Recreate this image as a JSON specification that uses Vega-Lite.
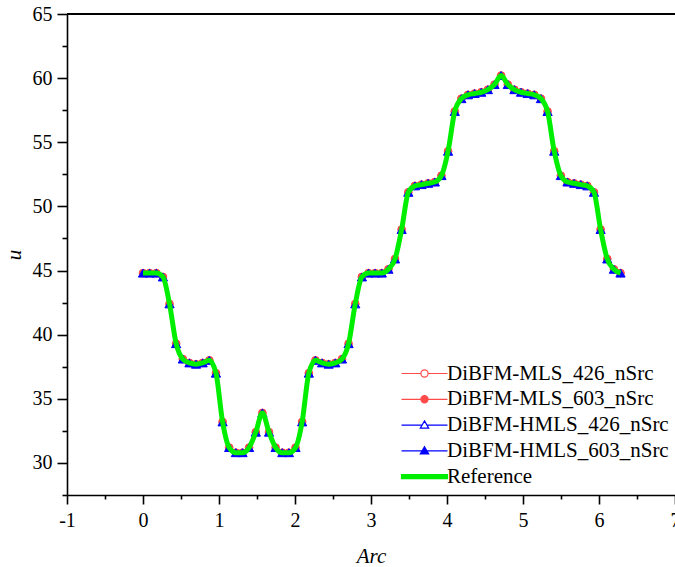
{
  "$schema": "https://vega.github.io/schema/vega-lite/v6.json",
  "width": 608,
  "height": 481,
  "autosize": {"type": "none"},
  "padding": {"left": 67, "top": 14, "right": 0, "bottom": 72},
  "config": {
    "view": {"stroke": null},
    "font": "Liberation Serif, DejaVu Serif, serif",
    "axis": {
      "grid": false,
      "domainColor": "#000000",
      "domainWidth": 1.6,
      "tickColor": "#000000",
      "tickWidth": 1.6,
      "labelFont": "Liberation Serif, DejaVu Serif, serif",
      "labelFontSize": 20,
      "labelColor": "#000000",
      "labelFlush": false,
      "labelBound": false,
      "labelOverlap": false,
      "titleFont": "Liberation Serif, DejaVu Serif, serif",
      "titleFontSize": 21,
      "titleFontStyle": "italic",
      "titleFontWeight": "normal",
      "titleColor": "#000000"
    },
    "legend": {
      "orient": "none",
      "legendX": 347,
      "legendY": 349,
      "padding": 0,
      "labelFont": "Liberation Serif, DejaVu Serif, serif",
      "labelFontSize": 21,
      "labelColor": "#000000",
      "labelLimit": 0,
      "labelOffset": 12,
      "symbolSize": 144,
      "symbolStrokeWidth": 1.2,
      "symbolOpacity": 1,
      "rowPadding": 3.8
    }
  },
  "data": {
    "values": [
      {"arc": 0.0, "m426": 44.8, "m603": 44.8, "h426": 44.8, "h603": 44.8, "ref": 44.8},
      {"arc": 0.087, "m426": 44.8, "m603": 44.8, "h426": 44.8, "h603": 44.8, "ref": 44.8},
      {"arc": 0.175, "m426": 44.8, "m603": 44.8, "h426": 44.8, "h603": 44.8, "ref": 44.8},
      {"arc": 0.262, "m426": 44.5, "m603": 44.5, "h426": 44.5, "h603": 44.5, "ref": 44.5},
      {"arc": 0.349, "m426": 42.4, "m603": 42.4, "h426": 42.4, "h603": 42.4, "ref": 42.4},
      {"arc": 0.436, "m426": 39.3, "m603": 39.3, "h426": 39.3, "h603": 39.3, "ref": 39.3},
      {"arc": 0.524, "m426": 38.1, "m603": 38.1, "h426": 38.1, "h603": 38.1, "ref": 38.1},
      {"arc": 0.611, "m426": 37.8, "m603": 37.8, "h426": 37.8, "h603": 37.8, "ref": 37.8},
      {"arc": 0.698, "m426": 37.7, "m603": 37.7, "h426": 37.7, "h603": 37.7, "ref": 37.7},
      {"arc": 0.785, "m426": 37.8, "m603": 37.8, "h426": 37.8, "h603": 37.8, "ref": 37.8},
      {"arc": 0.873, "m426": 38.0, "m603": 38.0, "h426": 38.0, "h603": 38.0, "ref": 38.0},
      {"arc": 0.96, "m426": 37.0, "m603": 37.0, "h426": 37.0, "h603": 37.0, "ref": 37.0},
      {"arc": 1.047, "m426": 33.2, "m603": 33.2, "h426": 33.2, "h603": 33.2, "ref": 33.2},
      {"arc": 1.134, "m426": 31.2, "m603": 31.2, "h426": 31.2, "h603": 31.2, "ref": 31.2},
      {"arc": 1.222, "m426": 30.8, "m603": 30.8, "h426": 30.8, "h603": 30.8, "ref": 30.8},
      {"arc": 1.309, "m426": 30.8, "m603": 30.8, "h426": 30.8, "h603": 30.8, "ref": 30.8},
      {"arc": 1.396, "m426": 31.2, "m603": 31.2, "h426": 31.2, "h603": 31.2, "ref": 31.2},
      {"arc": 1.484, "m426": 32.4, "m603": 32.4, "h426": 32.4, "h603": 32.4, "ref": 32.4},
      {"arc": 1.571, "m426": 33.9, "m603": 33.9, "h426": 33.9, "h603": 33.9, "ref": 33.9},
      {"arc": 1.658, "m426": 32.4, "m603": 32.4, "h426": 32.4, "h603": 32.4, "ref": 32.4},
      {"arc": 1.745, "m426": 31.2, "m603": 31.2, "h426": 31.2, "h603": 31.2, "ref": 31.2},
      {"arc": 1.833, "m426": 30.8, "m603": 30.8, "h426": 30.8, "h603": 30.8, "ref": 30.8},
      {"arc": 1.92, "m426": 30.8, "m603": 30.8, "h426": 30.8, "h603": 30.8, "ref": 30.8},
      {"arc": 2.007, "m426": 31.2, "m603": 31.2, "h426": 31.2, "h603": 31.2, "ref": 31.2},
      {"arc": 2.094, "m426": 33.2, "m603": 33.2, "h426": 33.2, "h603": 33.2, "ref": 33.2},
      {"arc": 2.182, "m426": 37.0, "m603": 37.0, "h426": 37.0, "h603": 37.0, "ref": 37.0},
      {"arc": 2.269, "m426": 38.0, "m603": 38.0, "h426": 38.0, "h603": 38.0, "ref": 38.0},
      {"arc": 2.356, "m426": 37.8, "m603": 37.8, "h426": 37.8, "h603": 37.8, "ref": 37.8},
      {"arc": 2.443, "m426": 37.7, "m603": 37.7, "h426": 37.7, "h603": 37.7, "ref": 37.7},
      {"arc": 2.531, "m426": 37.8, "m603": 37.8, "h426": 37.8, "h603": 37.8, "ref": 37.8},
      {"arc": 2.618, "m426": 38.1, "m603": 38.1, "h426": 38.1, "h603": 38.1, "ref": 38.1},
      {"arc": 2.705, "m426": 39.3, "m603": 39.3, "h426": 39.3, "h603": 39.3, "ref": 39.3},
      {"arc": 2.793, "m426": 42.4, "m603": 42.4, "h426": 42.4, "h603": 42.4, "ref": 42.4},
      {"arc": 2.88, "m426": 44.5, "m603": 44.5, "h426": 44.5, "h603": 44.5, "ref": 44.5},
      {"arc": 2.967, "m426": 44.8, "m603": 44.8, "h426": 44.8, "h603": 44.8, "ref": 44.8},
      {"arc": 3.054, "m426": 44.8, "m603": 44.8, "h426": 44.8, "h603": 44.8, "ref": 44.8},
      {"arc": 3.142, "m426": 44.8, "m603": 44.8, "h426": 44.8, "h603": 44.8, "ref": 44.8},
      {"arc": 3.229, "m426": 45.1, "m603": 45.1, "h426": 45.1, "h603": 45.1, "ref": 45.1},
      {"arc": 3.316, "m426": 45.9, "m603": 45.9, "h426": 45.9, "h603": 45.9, "ref": 45.9},
      {"arc": 3.403, "m426": 48.2, "m603": 48.2, "h426": 48.2, "h603": 48.2, "ref": 48.2},
      {"arc": 3.491, "m426": 51.1, "m603": 51.1, "h426": 51.1, "h603": 51.1, "ref": 51.1},
      {"arc": 3.578, "m426": 51.6, "m603": 51.6, "h426": 51.6, "h603": 51.6, "ref": 51.6},
      {"arc": 3.665, "m426": 51.7, "m603": 51.7, "h426": 51.7, "h603": 51.7, "ref": 51.7},
      {"arc": 3.752, "m426": 51.8, "m603": 51.8, "h426": 51.8, "h603": 51.8, "ref": 51.8},
      {"arc": 3.84, "m426": 51.9, "m603": 51.9, "h426": 51.9, "h603": 51.9, "ref": 51.9},
      {"arc": 3.927, "m426": 52.4, "m603": 52.4, "h426": 52.4, "h603": 52.4, "ref": 52.4},
      {"arc": 4.014, "m426": 54.3, "m603": 54.3, "h426": 54.3, "h603": 54.3, "ref": 54.3},
      {"arc": 4.102, "m426": 57.4, "m603": 57.4, "h426": 57.4, "h603": 57.4, "ref": 57.4},
      {"arc": 4.189, "m426": 58.4, "m603": 58.4, "h426": 58.4, "h603": 58.4, "ref": 58.4},
      {"arc": 4.276, "m426": 58.7, "m603": 58.7, "h426": 58.7, "h603": 58.7, "ref": 58.7},
      {"arc": 4.363, "m426": 58.8, "m603": 58.8, "h426": 58.8, "h603": 58.8, "ref": 58.8},
      {"arc": 4.451, "m426": 58.9, "m603": 58.9, "h426": 58.9, "h603": 58.9, "ref": 58.9},
      {"arc": 4.538, "m426": 59.1, "m603": 59.1, "h426": 59.1, "h603": 59.1, "ref": 59.1},
      {"arc": 4.625, "m426": 59.5, "m603": 59.5, "h426": 59.5, "h603": 59.5, "ref": 59.5},
      {"arc": 4.712, "m426": 60.2, "m603": 60.2, "h426": 60.2, "h603": 60.2, "ref": 60.2},
      {"arc": 4.8, "m426": 59.5, "m603": 59.5, "h426": 59.5, "h603": 59.5, "ref": 59.5},
      {"arc": 4.887, "m426": 59.1, "m603": 59.1, "h426": 59.1, "h603": 59.1, "ref": 59.1},
      {"arc": 4.974, "m426": 58.9, "m603": 58.9, "h426": 58.9, "h603": 58.9, "ref": 58.9},
      {"arc": 5.061, "m426": 58.8, "m603": 58.8, "h426": 58.8, "h603": 58.8, "ref": 58.8},
      {"arc": 5.149, "m426": 58.7, "m603": 58.7, "h426": 58.7, "h603": 58.7, "ref": 58.7},
      {"arc": 5.236, "m426": 58.4, "m603": 58.4, "h426": 58.4, "h603": 58.4, "ref": 58.4},
      {"arc": 5.323, "m426": 57.4, "m603": 57.4, "h426": 57.4, "h603": 57.4, "ref": 57.4},
      {"arc": 5.411, "m426": 54.3, "m603": 54.3, "h426": 54.3, "h603": 54.3, "ref": 54.3},
      {"arc": 5.498, "m426": 52.4, "m603": 52.4, "h426": 52.4, "h603": 52.4, "ref": 52.4},
      {"arc": 5.585, "m426": 51.9, "m603": 51.9, "h426": 51.9, "h603": 51.9, "ref": 51.9},
      {"arc": 5.672, "m426": 51.8, "m603": 51.8, "h426": 51.8, "h603": 51.8, "ref": 51.8},
      {"arc": 5.76, "m426": 51.7, "m603": 51.7, "h426": 51.7, "h603": 51.7, "ref": 51.7},
      {"arc": 5.847, "m426": 51.6, "m603": 51.6, "h426": 51.6, "h603": 51.6, "ref": 51.6},
      {"arc": 5.934, "m426": 51.1, "m603": 51.1, "h426": 51.1, "h603": 51.1, "ref": 51.1},
      {"arc": 6.021, "m426": 48.2, "m603": 48.2, "h426": 48.2, "h603": 48.2, "ref": 48.2},
      {"arc": 6.109, "m426": 45.9, "m603": 45.9, "h426": 45.9, "h603": 45.9, "ref": 45.9},
      {"arc": 6.196, "m426": 45.1, "m603": 45.1, "h426": 45.1, "h603": 45.1, "ref": 45.1},
      {"arc": 6.283, "m426": 44.8, "m603": 44.8, "h426": 44.8, "h603": 44.8, "ref": 44.8}
    ]
  },
  "transform": [
    {"fold": ["m426", "m603", "h426", "h603", "ref"], "as": ["key", "val"]}
  ],
  "encoding": {
    "x": {
      "field": "arc",
      "type": "quantitative",
      "scale": {"domain": [-1, 7], "nice": false, "zero": false},
      "axis": {
        "title": "Arc",
        "titlePadding": 15,
        "values": [-1, -0.5, 0, 0.5, 1, 1.5, 2, 2.5, 3, 3.5, 4, 4.5, 5, 5.5, 6, 6.5, 7],
        "labelExpr": "datum.value % 1 === 0 ? '' + datum.value : ''",
        "labelPadding": 6,
        "tickSize": {"condition": {"test": "datum.value % 1 === 0", "value": 9}, "value": 4}
      }
    },
    "y": {
      "field": "val",
      "type": "quantitative",
      "scale": {"domain": [27.5, 65], "nice": false, "zero": false},
      "axis": {
        "title": "u",
        "titlePadding": 8,
        "values": [27.5, 30, 32.5, 35, 37.5, 40, 42.5, 45, 47.5, 50, 52.5, 55, 57.5, 60, 62.5, 65],
        "labelExpr": "datum.value % 5 === 0 ? '' + datum.value : ''",
        "labelPadding": 5,
        "tickSize": {"condition": {"test": "datum.value % 5 === 0", "value": 10}, "value": 5}
      }
    }
  },
  "layer": [
    {
      "transform": [{"filter": "datum.key === 'm426'"}],
      "mark": {"type": "line", "color": "#ff4a4a", "strokeWidth": 1, "interpolate": "monotone"}
    },
    {
      "transform": [{"filter": "datum.key === 'm426'"}],
      "mark": {"type": "point", "shape": "circle", "filled": true, "fill": "#ffffff", "stroke": "#ff4a4a", "strokeWidth": 1, "size": 60, "opacity": 1}
    },
    {
      "transform": [{"filter": "datum.key === 'm603'"}],
      "mark": {"type": "line", "color": "#ff4a4a", "strokeWidth": 1, "interpolate": "monotone"}
    },
    {
      "transform": [{"filter": "datum.key === 'm603'"}],
      "mark": {"type": "point", "shape": "circle", "filled": true, "color": "#ff4a4a", "size": 60, "opacity": 1}
    },
    {
      "transform": [{"filter": "datum.key === 'h426'"}],
      "mark": {"type": "line", "color": "#0000ff", "strokeWidth": 1, "interpolate": "monotone"}
    },
    {
      "transform": [{"filter": "datum.key === 'h426'"}],
      "mark": {"type": "point", "shape": "triangle-up", "filled": true, "fill": "#ffffff", "stroke": "#0000ff", "strokeWidth": 1, "size": 85, "opacity": 1}
    },
    {
      "transform": [{"filter": "datum.key === 'h603'"}],
      "mark": {"type": "line", "color": "#0000ff", "strokeWidth": 1, "interpolate": "monotone"}
    },
    {
      "transform": [{"filter": "datum.key === 'h603'"}],
      "mark": {"type": "point", "shape": "triangle-up", "filled": true, "color": "#0000ff", "size": 85, "opacity": 1}
    },
    {
      "transform": [{"filter": "datum.key === 'ref'"}],
      "mark": {"type": "line", "color": "#00ee00", "strokeWidth": 5, "interpolate": "monotone"}
    },
    {
      "mark": {"type": "point", "filled": true, "opacity": 0},
      "encoding": {
        "shape": {
          "field": "key",
          "type": "nominal",
          "scale": {
            "domain": ["m426", "m603", "h426", "h603", "ref"],
            "range": [
              "M-3.83,0L-0.6,0M0.6,0L3.83,0M-0.6,0A0.6,0.6,0,1,0,0.6,0A0.6,0.6,0,1,0,-0.6,0Z",
              "M-3.83,0L3.83,0M-0.6,0A0.6,0.6,0,1,0,0.6,0A0.6,0.6,0,1,0,-0.6,0Z",
              "M-3.83,0L-0.4,0M0.4,0L3.83,0M0,-0.7L0.7,0.5L-0.7,0.5Z",
              "M-3.83,0L3.83,0M0,-0.7L0.7,0.5L-0.7,0.5Z",
              "M-3.83,-0.33L3.83,-0.33L3.83,0.33L-3.83,0.33Z"
            ]
          },
          "legend": {
            "title": null,
            "labelExpr": "{'m426': 'DiBFM-MLS_426_nSrc', 'm603': 'DiBFM-MLS_603_nSrc', 'h426': 'DiBFM-HMLS_426_nSrc', 'h603': 'DiBFM-HMLS_603_nSrc', 'ref': 'Reference'}[datum.value]"
          }
        },
        "stroke": {
          "field": "key",
          "type": "nominal",
          "scale": {
            "domain": ["m426", "m603", "h426", "h603", "ref"],
            "range": ["#ff4a4a", "#ff4a4a", "#0000ff", "#0000ff", "#00ee00"]
          },
          "legend": {
            "title": null,
            "labelExpr": "{'m426': 'DiBFM-MLS_426_nSrc', 'm603': 'DiBFM-MLS_603_nSrc', 'h426': 'DiBFM-HMLS_426_nSrc', 'h603': 'DiBFM-HMLS_603_nSrc', 'ref': 'Reference'}[datum.value]"
          }
        },
        "fill": {
          "field": "key",
          "type": "nominal",
          "scale": {
            "domain": ["m426", "m603", "h426", "h603", "ref"],
            "range": ["#ffffff", "#ff4a4a", "#ffffff", "#0000ff", "#00ee00"]
          },
          "legend": {
            "title": null,
            "labelExpr": "{'m426': 'DiBFM-MLS_426_nSrc', 'm603': 'DiBFM-MLS_603_nSrc', 'h426': 'DiBFM-HMLS_426_nSrc', 'h603': 'DiBFM-HMLS_603_nSrc', 'ref': 'Reference'}[datum.value]"
          }
        }
      }
    },
    {
      "mark": {"type": "rule", "color": "#000000", "strokeWidth": 1.6},
      "encoding": {
        "x": {"datum": -1},
        "x2": {"datum": 7},
        "y": {"datum": 65}
      }
    }
  ]
}
